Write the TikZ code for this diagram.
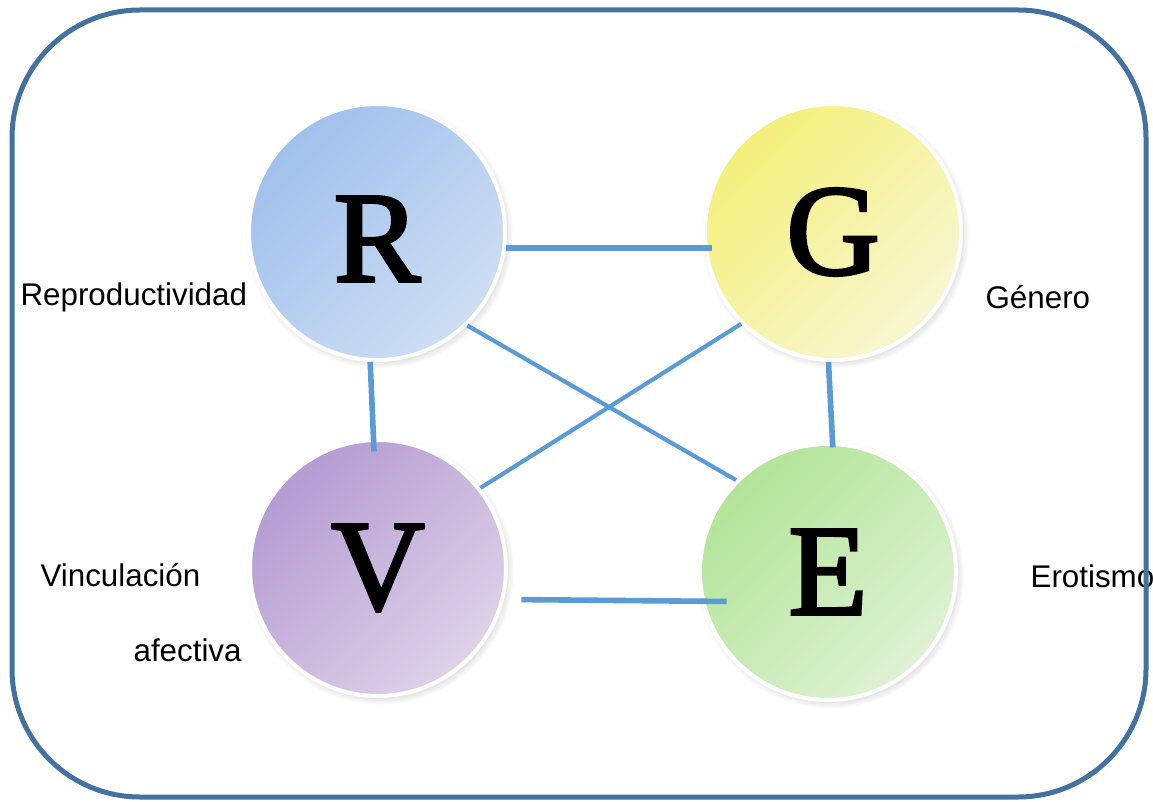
\documentclass[tikz,border=0pt]{standalone}
\usepackage{fontspec}
\setmainfont{Liberation Serif}
\newfontfamily\ballfont[FakeBold=2.5]{Liberation Serif}
\newfontfamily\labelfont{Liberation Sans}
\usetikzlibrary{shadows,fadings}

\definecolor{frameblue}{RGB}{68,114,160}
\definecolor{linkblue}{RGB}{91,155,213}
\definecolor{rtop}{RGB}{160,192,236}
\definecolor{rbot}{RGB}{206,222,243}
\definecolor{gtop}{RGB}{243,240,122}
\definecolor{gbot}{RGB}{248,246,210}
\definecolor{vtop}{RGB}{181,155,210}
\definecolor{vbot}{RGB}{222,210,232}
\definecolor{etop}{RGB}{178,228,152}
\definecolor{ebot}{RGB}{222,242,212}

\tikzset{every picture/.style={line width=0.9pt}}
\tikzset{
  ball/.style 2 args={circle, minimum size=192pt, inner sep=0pt, draw=white, line width=3pt,
    top color=#1, bottom color=#2, shading angle=45,
    circular drop shadow={shadow xshift=1.5pt, shadow yshift=-2pt, shadow scale=1.045, opacity=0.55},
    font=\ballfont\fontsize{97}{97}\selectfont},
  link/.style={draw=linkblue, line width=4.2pt},
  thinlink/.style={draw=linkblue, line width=3.1pt},
  lbl/.style={font=\labelfont\fontsize{23.5}{28}\selectfont, inner sep=0pt}
}

\begin{document}
\begin{tikzpicture}[x=0.75pt,y=0.75pt,yscale=-1,xscale=1]
\useasboundingbox (0,0) rectangle (1153,802);

%Shape: Circle R
\node[ball={rtop}{rbot}, text height=74pt, text depth=0pt] (R) at (377,232) {R};
%Shape: Circle G
\node[ball={gtop}{gbot}] (G) at (833,232) {G};
%Shape: Circle V
\node[ball={vtop}{vbot}] (V) at (378,568) {V};
%Shape: Circle E
\node[ball={etop}{ebot}] (E) at (828,572) {E};

%Straight Lines
\draw[link, shorten >=-6pt] (R.-7) -- (G.187) ;
%Straight Lines
\draw[link, shorten <=13pt, shorten >=-19pt] (V.-14.5) -- (E.193) ;
%Straight Lines
\draw[link, shorten >=-10pt] (R.267) -- (V.92) ;
%Straight Lines
\draw[link, shorten >=-4pt] (G.-92) -- (E.88) ;
%Straight Lines
\draw[thinlink] (R.-46) -- (E.135) ;
%Straight Lines
\draw[thinlink] (G.225) -- (V.38) ;

% Text Node
\node[lbl, anchor=west] (reprod) at (20,297) {Reproductividad};
% Text Node
\node[lbl, anchor=west] (genero) at (985,297) {Género};
% Text Node
\node[lbl, anchor=west] (vincul) at (40,575) {Vinculación};
% Text Node
\node[lbl, anchor=west] (afect) at (133,650) {afectiva};
% Text Node
\node[lbl, anchor=west] (erot) at (1030,576) {Erotismo};

%Shape: Rounded Rectangle
\draw[frameblue, line width=3.75pt, rounded corners=96pt] (12,10) rectangle (1146,797) ;

\end{tikzpicture}
\end{document}
